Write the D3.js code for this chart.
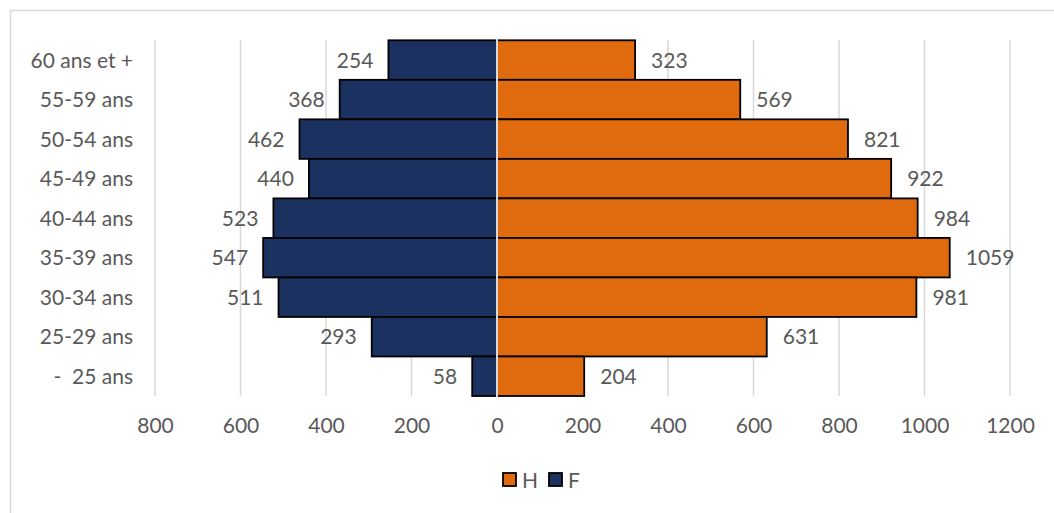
<!DOCTYPE html>
<html>
<head>
<meta charset="utf-8">
<script src="https://cdn.jsdelivr.net/npm/d3@7"></script>
<style>
  html, body { margin: 0; padding: 0; background: #fff; }
  svg { display: block; font-family: Lato, "Open Sans", sans-serif; }
  text { white-space: pre; }
</style>
</head>
<body>
<svg id="chart" width="1054" height="513"></svg>
<script>
// Age groups, oldest at top
const ageGroups = ["60 ans et +", "55-59 ans", "50-54 ans", "45-49 ans", "40-44 ans",
                   "35-39 ans", "30-34 ans", "25-29 ans", "-  25 ans"];
// Men (H) and women (F) per age group
const valuesH = [323, 569, 821, 922, 984, 1059, 981, 631, 204];
const valuesF = [254, 368, 462, 440, 523, 547, 511, 293, 58];
// Axis ticks (signed position, label shown)
const tickValues = [-800, -600, -400, -200, 0, 200, 400, 600, 800, 1000, 1200];
const tickLabels = ["800", "600", "400", "200", "0", "200", "400", "600", "800", "1000", "1200"];
const seriesNames = ["H", "F"];
const seriesColors = ["#e06a0e", "#1b3160"];

const svg = d3.select("#chart");
const W = 1054, H = 513;
const textColor = "#595959";
const gridColor = "#d9d9d9";

// chart frame
svg.append("rect")
  .attr("x", 10.5).attr("y", 10.5)
  .attr("width", W + 20).attr("height", H + 20)
  .attr("fill", "#fff").attr("stroke", gridColor).attr("stroke-width", 1.5);

const x = d3.scaleLinear().domain([-800, 1200]).range([155, 1010]);
const y = d3.scaleBand().domain(ageGroups).range([40.3, 396]).paddingInner(0).paddingOuter(0);

// vertical gridlines
svg.append("g").selectAll("line")
  .data(tickValues.filter(t => t !== 0))
  .join("line")
  .attr("x1", d => x(d)).attr("x2", d => x(d))
  .attr("y1", 40).attr("y2", 396)
  .attr("stroke", gridColor).attr("stroke-width", 1.5);

const rows = ageGroups.map((g, i) => ({ g, h: valuesH[i], f: valuesF[i] }));

// women bars (left)
svg.append("g").selectAll("rect")
  .data(rows).join("rect")
  .attr("x", d => x(-d.f)).attr("y", d => y(d.g))
  .attr("width", d => x(0) - x(-d.f)).attr("height", y.bandwidth())
  .attr("fill", seriesColors[1]).attr("stroke", "#000").attr("stroke-width", 1.8);

// men bars (right)
svg.append("g").selectAll("rect")
  .data(rows).join("rect")
  .attr("x", x(0)).attr("y", d => y(d.g))
  .attr("width", d => x(d.h) - x(0)).attr("height", y.bandwidth())
  .attr("fill", seriesColors[0]).attr("stroke", "#000").attr("stroke-width", 1.8);

// zero line over the bars
svg.append("line")
  .attr("x1", x(0)).attr("x2", x(0)).attr("y1", 39).attr("y2", 397)
  .attr("stroke", "#d9d9d9").attr("stroke-width", 2);

const fontSize = 21;

// value labels
svg.append("g").selectAll("text")
  .data(rows).join("text")
  .attr("x", d => x(-d.f) - 15).attr("y", d => y(d.g) + y.bandwidth() / 2)
  .attr("dy", "0.36em").attr("text-anchor", "end")
  .attr("font-size", fontSize).attr("fill", textColor)
  .text(d => d.f);

svg.append("g").selectAll("text")
  .data(rows).join("text")
  .attr("x", d => x(d.h) + 16).attr("y", d => y(d.g) + y.bandwidth() / 2)
  .attr("dy", "0.36em").attr("text-anchor", "start")
  .attr("font-size", fontSize).attr("fill", textColor)
  .text(d => d.h);

// category labels
svg.append("g").selectAll("text")
  .data(ageGroups).join("text")
  .attr("x", 133).attr("y", d => y(d) + y.bandwidth() / 2)
  .attr("dy", "0.36em").attr("text-anchor", "end")
  .attr("font-size", fontSize).attr("fill", textColor)
  .text(d => d);

// x axis labels
const xAxis = d3.axisBottom(x).tickValues(tickValues)
  .tickFormat((d, i) => tickLabels[i]).tickSize(0).tickPadding(0);
const gx = svg.append("g").attr("transform", "translate(0,420)").call(xAxis);
gx.select(".domain").remove();
gx.selectAll("text")
  .attr("font-size", fontSize).attr("fill", textColor)
  .attr("font-family", "Lato, 'Open Sans', sans-serif").attr("dy", "0.6em");

// legend
const legend = svg.append("g");
const legendX = [503, 549];
seriesNames.forEach((name, i) => {
  legend.append("rect")
    .attr("x", legendX[i]).attr("y", 473)
    .attr("width", 13).attr("height", 13)
    .attr("fill", seriesColors[i]).attr("stroke", "#000").attr("stroke-width", 1.8);
  legend.append("text")
    .attr("x", legendX[i] + 19).attr("y", 480)
    .attr("dy", "0.36em").attr("font-size", fontSize).attr("fill", textColor)
    .text(name);
});
</script>
</body>
</html>
